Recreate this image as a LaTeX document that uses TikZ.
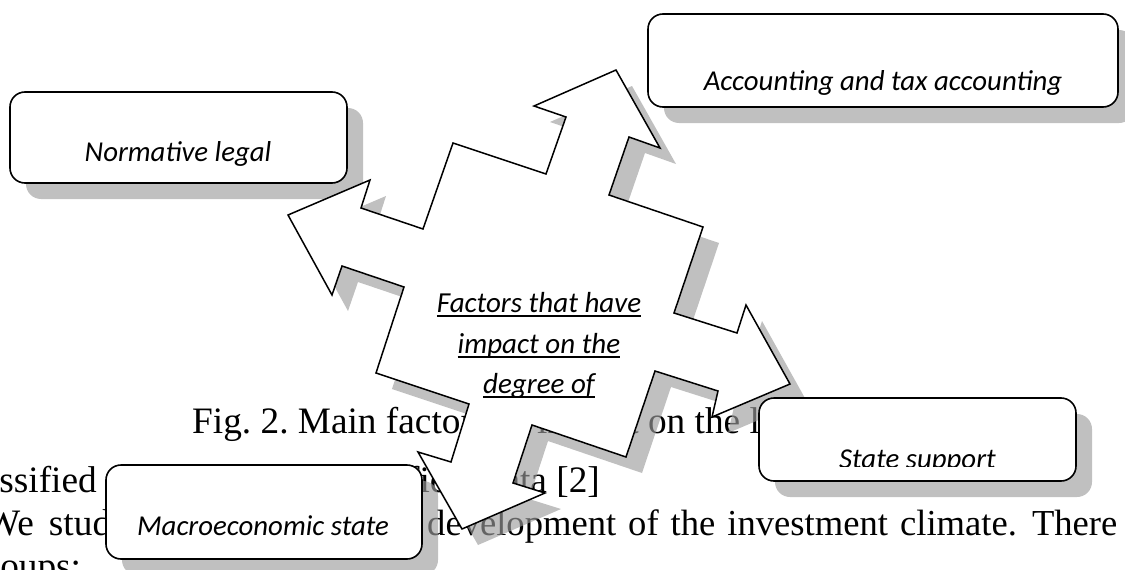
\documentclass[tikz,border=0pt]{standalone}
\usepackage{fontspec}
\setmainfont{Liberation Serif}
\newfontfamily\boxfont{Carlito}
\usetikzlibrary{calc}
\pgfdeclarelayer{pagetext}
\pgfdeclarelayer{shadowlayer}
\pgfsetlayers{pagetext,shadowlayer,main}
\definecolor{shadowgray}{RGB}{156,156,156}
\newcommand{\ulword}[1]{\setbox0\hbox{#1}\rlap{\rule[-4.8pt]{\wd0}{1.5pt}}\box0}
\newcommand{\arrowoutline}[1]{\path[#1] (616,70) -- (660,148) -- (629,137) -- (609,195) -- (703,227) -- (674,313) -- (737,333) -- (746,305) -- (790,384) -- (712,417) -- (718,391) -- (655,371) -- (626,457) -- (532,425) -- (513,483) -- (545,493) -- (462,529) -- (418,452) -- (451,462) -- (469,404) -- (376,373) -- (404,287) -- (342,266) -- (332,295) -- (288,215) -- (370,180) -- (361,208) -- (423,229) -- (453,143) -- (546,174) -- (566,117) -- (534,106) -- cycle;}
\tikzset{
  factorbox/.style={draw=black, line width=1.6pt, fill=white, rounded corners=15pt, inner sep=0pt, outer sep=0pt},
  boxlabel/.style={font=\boxfont\itshape\fontsize{28.8}{34}\selectfont, anchor=base, inner sep=0pt},
  centrelabel/.style={font=\boxfont\itshape\fontsize{29}{35}\selectfont, anchor=base, inner sep=0pt},
  pageline/.style={font=\frenchspacing\fontsize{37.3}{43}\selectfont, anchor=base west, inner sep=0pt},
  shadowfill/.style={fill=shadowgray, fill opacity=0.64},
  arrowline/.style={draw=black, line width=1.5pt, fill=white, line join=miter},
}
\begin{document}
\begin{tikzpicture}[x=1pt,y=-1pt]
\useasboundingbox (0,0) rectangle (1125,570);
% page text behind the figure
\begin{pgfonlayer}{pagetext}
  \node[pageline] (cap) at (192,433) {Fig. 2. Main factors of impact on the level of investment};
  \node[pageline, anchor=base east] (src1) at (97,492) {classified};
  \node[pageline] (src2) at (407,492) {field data [2]};
  \node[pageline] (par1) at (-15,535) {We\hspace{15pt}study};
  \node[pageline, font=\frenchspacing\fontsize{36.6}{43}\selectfont] (par2) at (427,535) {development\hspace{12pt}of\hspace{12pt}the\hspace{12pt}investment\hspace{12pt}climate.\hspace{15pt}There};
  \node[pageline] (par3) at (-31,578) {groups:};
\end{pgfonlayer}
% arrow
\arrowoutline{arrowline}
% boxes
\node[factorbox, minimum width=337pt, minimum height=91pt] (norm) at (178.5,137.5) {};
\node[factorbox, minimum width=470pt, minimum height=93pt] (acc) at (883,60.5) {};
\node[factorbox, minimum width=317pt, minimum height=83pt] (state) at (917.5,439.5) {};
\node[factorbox, minimum width=316pt, minimum height=94pt] (macro) at (264,512) {};
% shadows
\begin{pgfonlayer}{shadowlayer}
  \begin{scope}[shift={(16,16)}]
    \arrowoutline{shadowfill}
  \end{scope}
  \foreach \b in {norm,acc,state,macro}{
    \fill[shadowfill, rounded corners=15pt] ($(\b.north west)+(16,16)$) rectangle ($(\b.south east)+(16,16)$);
  }
\end{pgfonlayer}
% labels
\node[boxlabel] (normtext) at (178,161) {Normative legal};
\node[boxlabel] (acctext) at (883,90) {Accounting and tax accounting};
\begin{scope}
  \clip (759,398) rectangle (1076,466);
  \node[boxlabel] (statetext) at (917.5,468) {State support};
\end{scope}
\node[boxlabel] (macrotext) at (263,535) {Macroeconomic state};
\node[centrelabel] (ctr1) at (539,312) {\ulword{Factors that have}};
\node[centrelabel] (ctr2) at (539,353) {\ulword{impact on the}};
\node[centrelabel] (ctr3) at (539,393) {\ulword{degree of}};
\end{tikzpicture}
\end{document}
